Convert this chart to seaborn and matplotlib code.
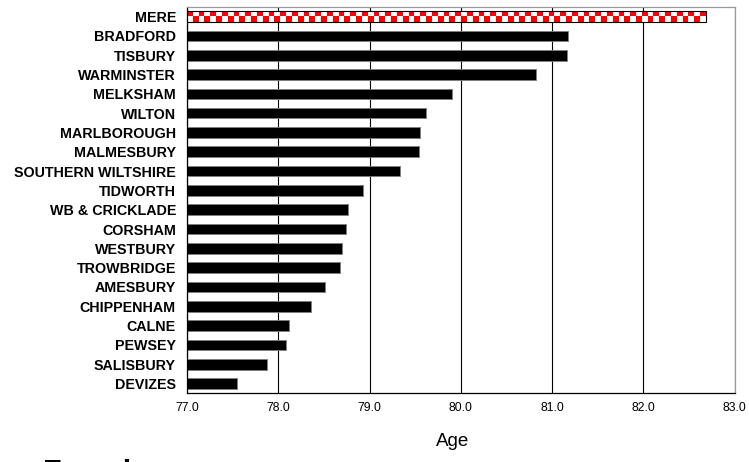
import numpy as np
import pandas as pd
import matplotlib
matplotlib.use("Agg")
import matplotlib.pyplot as plt
import seaborn as sns

# life expectancy by community area
areas = ["MERE", "BRADFORD", "TISBURY", "WARMINSTER", "MELKSHAM", "WILTON",
         "MARLBOROUGH", "MALMESBURY", "SOUTHERN WILTSHIRE", "TIDWORTH",
         "WB & CRICKLADE", "CORSHAM", "WESTBURY", "TROWBRIDGE", "AMESBURY",
         "CHIPPENHAM", "CALNE", "PEWSEY", "SALISBURY", "DEVIZES"]
ages = [82.68, 81.17, 81.16, 80.82, 79.90, 79.62,
        79.55, 79.54, 79.33, 78.93,
        78.76, 78.74, 78.70, 78.68, 78.51,
        78.36, 78.12, 78.08, 77.88, 77.55]
x_ticks = [77.0, 78.0, 79.0, 80.0, 81.0, 82.0, 83.0]
highlight = "MERE"

df = pd.DataFrame({"area": areas, "age": ages})

sns.set_style("white")
plt.rcParams["font.family"] = ["Liberation Sans", "DejaVu Sans"]
plt.rcParams["text.color"] = "black"
plt.rcParams["axes.labelcolor"] = "black"
plt.rcParams["xtick.color"] = "black"
plt.rcParams["ytick.color"] = "black"

fig = plt.figure(figsize=(7.49, 4.62), dpi=100)
ax = fig.add_axes([0.2497, 0.149, 0.7313, 0.836])

colors = {a: ("#ff0000" if a == highlight else "black") for a in areas}
sns.barplot(data=df, x="age", y="area", hue="area", palette=colors,
            legend=False, width=0.55, orient="h", ax=ax, saturation=1,
            edgecolor="#808080", linewidth=0.6)

ax.set_xlim(x_ticks[0], x_ticks[-1])
ylim = ax.get_ylim()

# checker fill for the highlighted bar, clipped to the bar itself
hp = ax.patches[areas.index(highlight)]
hp.set_edgecolor("black")
hp.set_linewidth(0.8)
x0 = max(hp.get_x(), x_ticks[0])
x1 = hp.get_x() + hp.get_width()
y0 = hp.get_y()
y1 = y0 + hp.get_height()
ncols = int(round((x1 - x0) / 0.064))
checker = (np.indices((2, ncols)).sum(axis=0) % 2).astype(float)
cmap = matplotlib.colors.ListedColormap(["#ff0000", "white"])
img = ax.imshow(checker, cmap=cmap, extent=(x0, x1, y1, y0),
                aspect="auto", interpolation="nearest", zorder=hp.get_zorder())
img.set_clip_path(hp)
hp.set_facecolor("none")
hp.set_zorder(hp.get_zorder() + 0.1)
ax.set_xlim(x_ticks[0], x_ticks[-1])
ax.set_ylim(ylim)

ax.set_xticks(x_ticks)
ax.set_xticklabels([f"{t:.1f}" for t in x_ticks], fontsize=8.8)
ax.grid(axis="x", color="black", linewidth=0.8)
ax.set_axisbelow(True)

ax.set_yticks(range(len(areas)))
ax.set_yticklabels(areas, fontsize=10.3, fontweight="bold")
ax.set_yticks(np.arange(len(areas) + 1) - 0.5, minor=True)
ax.tick_params(axis="y", which="major", length=0, pad=8)
ax.tick_params(axis="y", which="minor", length=5, width=0.8, direction="out", color="black")
ax.tick_params(axis="x", length=7, width=0.8, direction="inout", color="black", pad=3)

ax.set_ylabel("")
ax.set_xlabel("Age", fontsize=13.5)
ax.xaxis.set_label_coords(0.485, -0.102)

for side in ["left", "bottom"]:
    ax.spines[side].set_color("black")
    ax.spines[side].set_linewidth(0.9)
for side in ["top", "right"]:
    ax.spines[side].set_color("#999999")
    ax.spines[side].set_linewidth(0.9)

fig.text(0.057, 0.0065, "Female", fontsize=22, fontweight="bold", va="top", ha="left")

fig.savefig("out.png", dpi=100)
